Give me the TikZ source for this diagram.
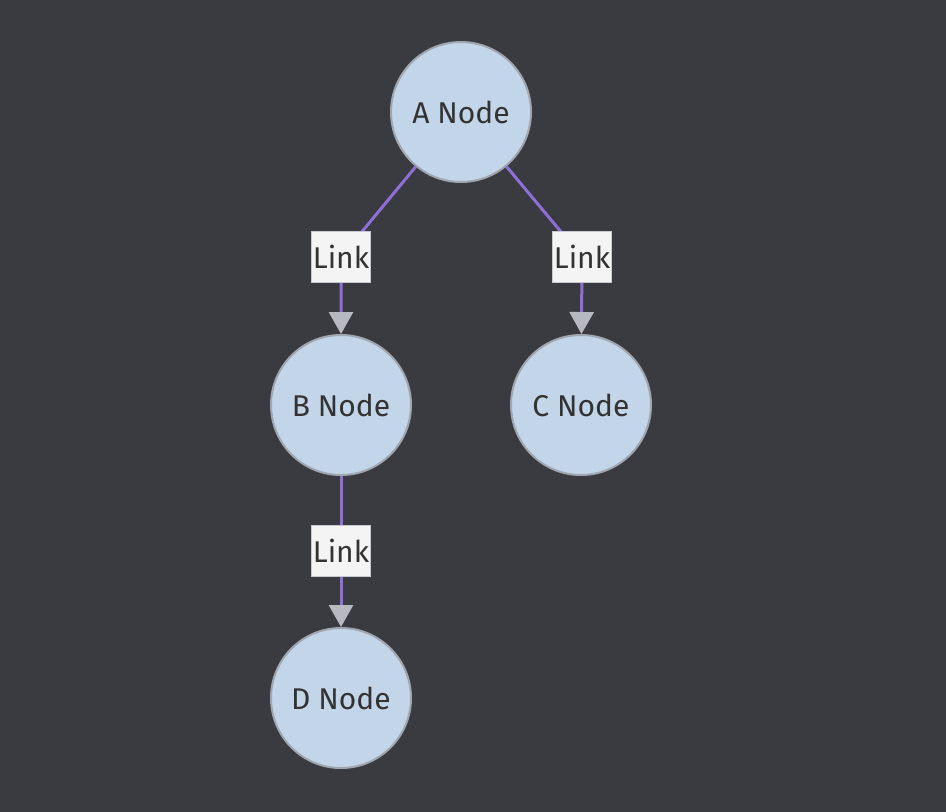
\documentclass[tikz,border=0pt]{standalone}
\usepackage{fontspec}
\setmainfont{Fira Sans}
\usetikzlibrary{arrows.meta}
\usepackage{xcolor}
\definecolor{bgdark}{RGB}{57,59,64}
\definecolor{nodefill}{RGB}{195,213,232}
\definecolor{nodeline}{RGB}{160,166,176}
\definecolor{linkpurple}{RGB}{142,110,216}
\definecolor{tipgray}{RGB}{182,185,192}
\definecolor{labelfill}{RGB}{244,244,244}
\definecolor{textdark}{RGB}{51,51,51}
\tikzset{
  circnode/.style={circle, fill=nodefill, draw=nodeline, line width=2pt,
    minimum size=140pt, inner sep=0pt, text=textdark,
    font=\fontsize{30}{36}\selectfont},
  linklabel/.style={fill=labelfill, draw=nodeline!60, line width=0.6pt,
    minimum width=59pt, minimum height=51pt, inner sep=0pt, text=textdark,
    font=\fontsize{30}{36}\selectfont},
  linkline/.style={linkpurple, line width=3pt,
    -{Triangle[length=22pt,width=24pt,color=tipgray]}}
}
\begin{document}
\begin{tikzpicture}[x=1pt,y=-1pt]
\fill[bgdark] (0,0) rectangle (946,812);
\useasboundingbox (0,0) rectangle (946,812);
\node[circnode] (A) at (461,112) {A Node};
\node[circnode] (B) at (341,405) {B Node};
\node[circnode] (C) at (581,405) {C Node};
\node[circnode] (D) at (341,698) {D Node};
\coordinate (ab) at (341,257);
\coordinate (ac) at (582,257);
\coordinate (bd) at (341,551);
\draw[linkline] (A) -- (ab) -- (B);
\draw[linkline] (A) -- (ac) -- (C);
\draw[linkline] (B) -- (bd) -- (D);
\node[linklabel] (lab) at (ab) {Link};
\node[linklabel] (lac) at (ac) {Link};
\node[linklabel] (lbd) at (bd) {Link};
\end{tikzpicture}
\end{document}
